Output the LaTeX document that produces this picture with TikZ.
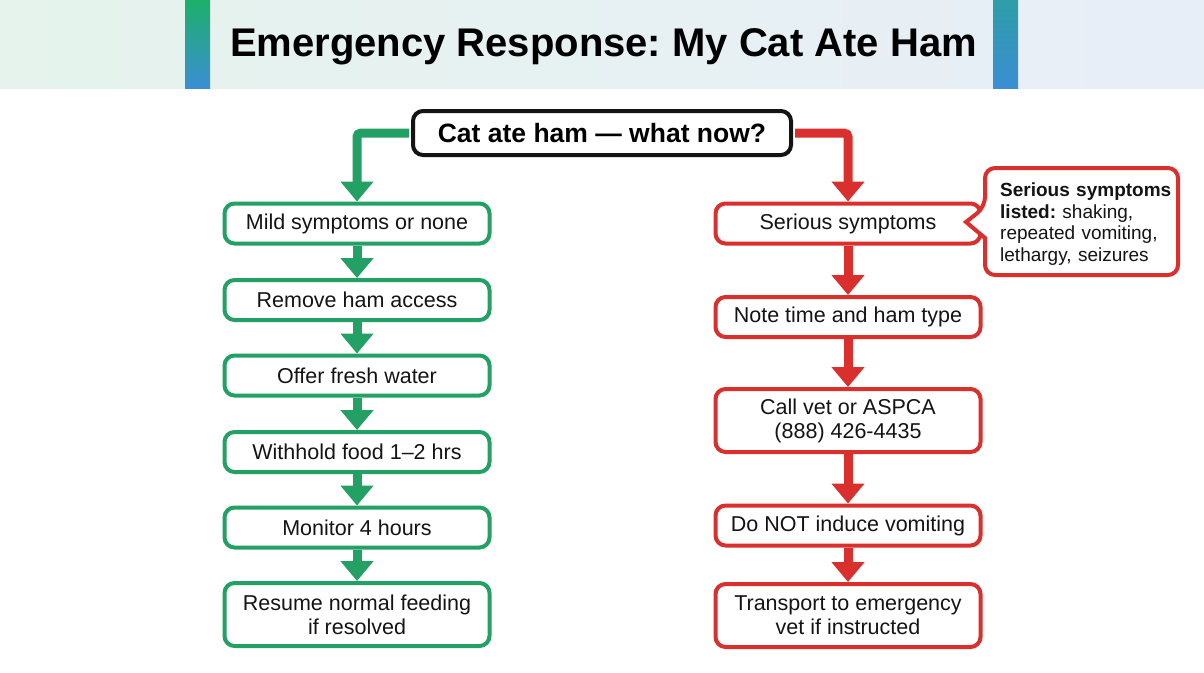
\documentclass[tikz,border=0pt]{standalone}
\usepackage{fontspec}
\setmainfont{Liberation Sans}
\usetikzlibrary{arrows.meta}
\definecolor{G}{HTML}{23A064}
\definecolor{R}{HTML}{D9302E}
\definecolor{T}{HTML}{141414}
\definecolor{bandL}{HTML}{E5F3EC}
\definecolor{bandR}{HTML}{E8EEF8}
\definecolor{barG}{HTML}{1DB06A}
\definecolor{barT}{HTML}{2E9EA8}
\definecolor{barB}{HTML}{3B8ED4}
\frenchspacing
\hyphenpenalty=10000
\begin{document}
\begin{tikzpicture}[x=1pt,y=-1pt,
  box/.style={draw, line width=4pt, rounded corners=10pt, fill=white,
    minimum width=265pt, minimum height=40pt, align=center, text=T,
    inner sep=2pt, font=\fontsize{21.5}{24}\selectfont},
  gbox/.style={box, draw=G},
  rbox/.style={box, draw=R},
  conn/.style={line width=9pt, -{Triangle[width=32pt,length=20pt]}},
  gconn/.style={conn, color=G},
  rconn/.style={conn, color=R}]
\useasboundingbox (0,0) rectangle (1204,672);
\fill[white] (0,0) rectangle (1204,672);
% title band
\shade[left color=bandL, right color=bandR] (0,0) rectangle (1204,88);
\shade[top color=barG, bottom color=barB] (185,0) rectangle (210,88);
\shade[top color=barT, bottom color=barB] (993,0) rectangle (1018,88);
\node[anchor=base, text=black, font=\fontsize{40}{48}\selectfont\bfseries] (title) at (603.5,56) {Emergency Response: My Cat Ate Ham};

% top question
\node[draw=T, line width=4pt, rounded corners=10pt, fill=white, minimum width=378pt, minimum height=44pt, text=black, font=\fontsize{26.5}{30}\selectfont\bfseries] (top) at (602,133) {Cat ate ham — what now?};

% left branch
\node[gbox] (l1) at (357,223.5) {Mild symptoms or none};
\node[gbox] (l2) at (357,300) {Remove ham access};
\node[gbox] (l3) at (357,375.5) {Offer fresh water};
\node[gbox] (l4) at (357,452) {Withhold food 1–2 hrs};
\node[gbox] (l5) at (357,527.5) {Monitor 4 hours};
\node[gbox, minimum height=63pt] (l6) at (357,614.5) {Resume normal feeding\\if resolved};

% right branch
\node[rbox] (r1) at (848,223.5) {Serious symptoms};
\node[rbox] (r2) at (848,317) {Note time and ham type};
\node[rbox, minimum height=63pt] (r3) at (848,420.5) {Call vet or ASPCA\\(888) 426-4435};
\node[rbox] (r4) at (848,525.5) {Do NOT induce vomiting};
\node[rbox, minimum height=63pt] (r5) at (848,615.5) {Transport to emergency\\vet if instructed};

% connectors
\draw[gconn, rounded corners=4pt] ([xshift=-2pt]top.west) -| (l1.north);
\draw[rconn, rounded corners=4pt] ([xshift=2pt]top.east) -| (r1.north);
\draw[gconn] (l1) -- (l2);
\draw[gconn] (l2) -- (l3);
\draw[gconn] (l3) -- (l4);
\draw[gconn] (l4) -- (l5);
\draw[gconn] (l5) -- (l6);
\draw[rconn] (r1) -- (r2);
\draw[rconn] (r2) -- (r3);
\draw[rconn] (r3) -- (r4);
\draw[rconn] (r4) -- (r5);

% callout
\draw[R, line width=4pt, fill=white, rounded corners=10pt]
  (985,238) -- (985,275) -- (1178,275) -- (1178,168) -- (985,168) -- (985,207)
  [sharp corners] -- (966,222) -- cycle;
\node[anchor=north west, text width=178pt, inner sep=0pt, align=left, text=T, font=\fontsize{19}{21.5}\selectfont] (note) at (1000,183) {\textbf{Serious symptoms}\\\textbf{listed:} shaking,\\repeated vomiting,\\lethargy, seizures};
\end{tikzpicture}
\end{document}
